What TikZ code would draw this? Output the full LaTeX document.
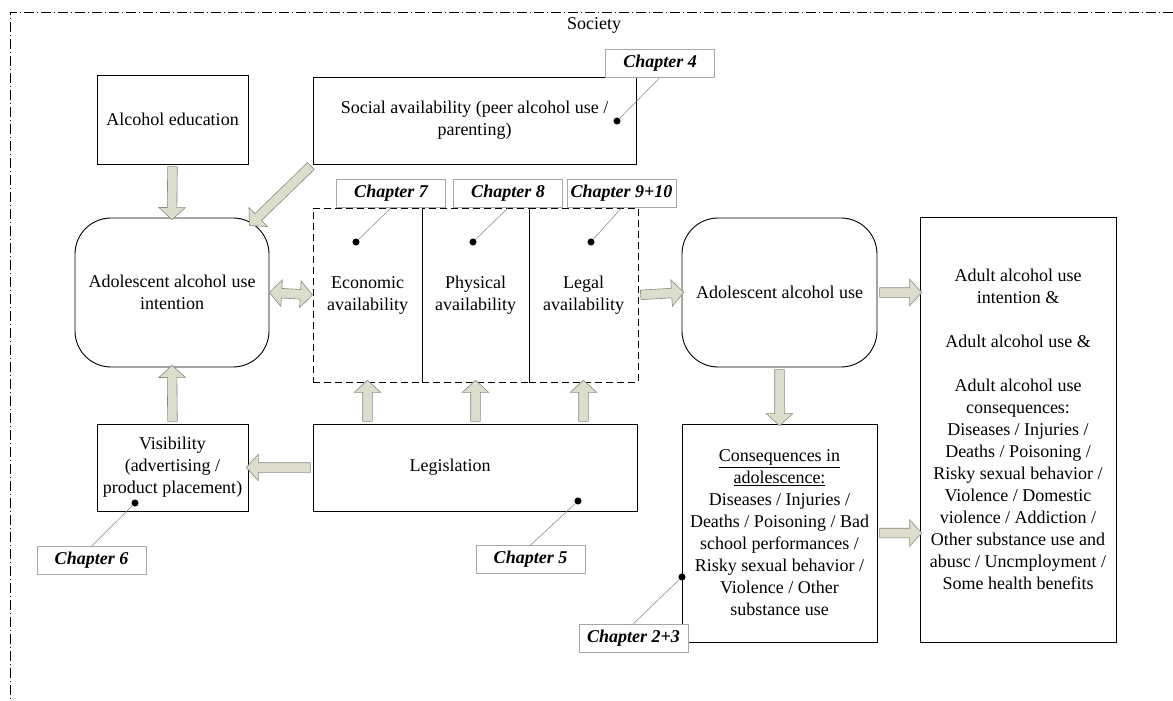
\documentclass[tikz,border=0pt]{standalone}
\usepackage{fontspec}
\setmainfont{Liberation Serif}
\usetikzlibrary{shapes.arrows,calc}

\definecolor{arrow_fill}{RGB}{221,221,205}
\definecolor{arrow_line}{RGB}{138,138,124}

\tikzset{plain_box/.style={draw=black, line width=0.9pt, inner sep=2pt, align=center, font=\fontsize{18}{22}\selectfont}}
\tikzset{round_box/.style={plain_box, rounded corners=36pt}}
\tikzset{avail_box/.style={plain_box, dashed, dash pattern=on 7pt off 4pt}}
\tikzset{chapter_label/.style={draw=gray!70, fill=white, line width=0.7pt, minimum width=109pt, minimum height=28pt, inner sep=0pt, font=\fontsize{18}{22}\selectfont\bfseries\itshape}}
\tikzset{chapter_dot/.style={inner sep=2.5pt, outer sep=0pt, circle, fill=black}}
\tikzset{pointer/.style={draw=gray, line width=0.5pt}}
\tikzset{block_arrow/.style={single arrow, draw=arrow_line, fill=arrow_fill, line width=0.6pt, inner xsep=0pt, inner ysep=4.5pt, single arrow head extend=8.5pt, single arrow tip angle=95}}
\tikzset{double_block_arrow/.style={double arrow, draw=arrow_line, fill=arrow_fill, line width=0.6pt, inner xsep=0pt, inner ysep=4.5pt, double arrow head extend=8.5pt, double arrow tip angle=95}}

% block arrow from one anchor to another
\newcommand{\blockarrow}[3][block_arrow]{%
  \path let \p1=(#2), \p2=(#3), \n1={atan2(\y2-\y1,\x2-\x1)}, \n2={veclen(\x2-\x1,\y2-\y1)} in
    node[#1, minimum height=\n2, rotate=\n1] at ($(\p1)!0.5!(\p2)$) {};}

\begin{document}
\begin{tikzpicture}[x=1pt, y=-1pt]
    \useasboundingbox (0,0) rectangle (1173,701);
    \draw[line width=0.8pt, dash pattern=on 10pt off 3pt on 1pt off 3pt] (1173,12) -- (10,12) -- (10,701);
    \node[font=\fontsize{18}{22}\selectfont] (society) at (594,25) {Society};

    % boxes
    \node[plain_box, minimum width=151pt, minimum height=89pt] (edu) at (172.5,119.5) {Alcohol education};
    \node[plain_box, minimum width=323pt, minimum height=87pt] (social) at (474.5,120.5) {Social availability (peer alcohol use /\\parenting)};
    \node[round_box, minimum width=194pt, minimum height=149pt] (intent) at (172,292.5) {Adolescent alcohol use\\intention};
    \node[avail_box, minimum width=109pt, minimum height=174pt] (econ) at (367.5,295) {Economic\\availability};
    \node[avail_box, minimum width=107pt, minimum height=174pt] (phys) at (475.5,295) {Physical\\availability};
    \node[avail_box, minimum width=109pt, minimum height=174pt] (legal) at (583.5,295) {Legal\\availability};
    \node[round_box, minimum width=195pt, minimum height=149pt] (use) at (779.5,292.5) {Adolescent alcohol use};
    \node[plain_box, minimum width=196pt, minimum height=425pt] (adult) at (1018,429.5) {Adult alcohol use\\intention \&\\[22pt]Adult alcohol use \&\\[22pt]Adult alcohol use\\consequences:\\Diseases / Injuries /\\Deaths / Poisoning /\\Risky sexual behavior /\\Violence / Domestic\\violence / Addiction /\\Other substance use and\\abusc / Uncmployment /\\Some health benefits};
    \node[plain_box, minimum width=195pt, minimum height=218pt] (cons) at (779.5,533) {\underline{Consequences in}\\\underline{adolescence:}\\Diseases / Injuries /\\Deaths / Poisoning / Bad\\school performances /\\Risky sexual behavior /\\Violence / Other\\substance use};
    \node[plain_box, minimum width=151pt, minimum height=87pt] (vis) at (172.5,467.5) {Visibility\\(advertising /\\product placement)};
    \node[plain_box, minimum width=324pt, minimum height=87pt] (legis) at (475,467.5) {Legislation\hspace*{50pt}};

    % block arrows
    \coordinate (social_tip) at (251,224);
    \blockarrow{edu.south}{intent.north}
    \blockarrow{social.south west}{social_tip}
    \blockarrow[double_block_arrow]{intent.east}{econ.west}
    \blockarrow{legal.east}{use.west}
    \blockarrow{use.east}{use.east -| adult.west}
    \blockarrow{use.south}{cons.north}
    \blockarrow{cons.east}{cons.east -| adult.west}
    \blockarrow{vis.north}{intent.south}
    \blockarrow{legis.west}{vis.east}
    \blockarrow{econ.south |- legis.north}{econ.south}
    \blockarrow{phys.south |- legis.north}{phys.south}
    \blockarrow{legal.south |- legis.north}{legal.south}

    % chapter labels
    \node[chapter_label] (ch4) at (660,63) {Chapter 4};
    \node[chapter_label] (ch7) at (391,193.5) {Chapter 7};
    \node[chapter_label] (ch8) at (508,193.5) {Chapter 8};
    \node[chapter_label] (ch910) at (621.5,193.5) {Chapter 9+10};
    \node[chapter_label] (ch6) at (91.5,560.5) {Chapter 6};
    \node[chapter_label] (ch5) at (530.5,559.5) {Chapter 5};
    \node[chapter_label] (ch23) at (633.5,638) {Chapter 2+3};

    \node[chapter_dot] (dot4) at (617,121) {};
    \node[chapter_dot] (dot7) at (356,242) {};
    \node[chapter_dot] (dot8) at (473,242) {};
    \node[chapter_dot] (dot910) at (591,242) {};
    \node[chapter_dot] (dot6) at (135,503) {};
    \node[chapter_dot] (dot5) at (578,501) {};
    \node[chapter_dot] (dot23) at (682,577) {};

    \draw[pointer] (dot4) -- (ch4.south);
    \draw[pointer] (dot7) -- (ch7.south);
    \draw[pointer] (dot8) -- (ch8.south);
    \draw[pointer] (dot910) -- (ch910.south);
    \draw[pointer] (dot6) -- (ch6.north);
    \draw[pointer] (dot5) -- (ch5.north);
    \draw[pointer] (dot23) -- (ch23.north);
\end{tikzpicture}
\end{document}
